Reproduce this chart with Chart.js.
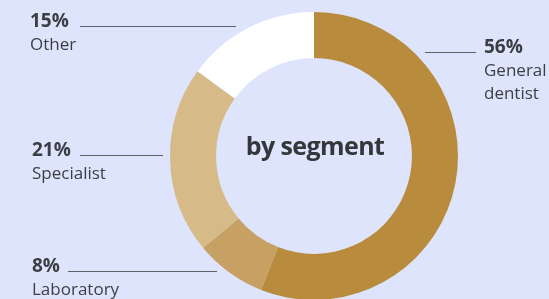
<!DOCTYPE html>
<html>
<head>
<meta charset="utf-8">
<script src="https://cdn.jsdelivr.net/npm/chart.js@4.4.0/dist/chart.umd.min.js"></script>
<style>
html,body{margin:0;padding:0;background:#dde4fc;overflow:hidden;width:549px;height:299px;}
#wrap{position:absolute;left:0;top:0;width:549px;height:300px;}
</style>
</head>
<body>
<div id="wrap"><canvas id="c" width="549" height="300"></canvas></div>
<script>
const categories = ["General dentist", "Laboratory", "Specialist", "Other"];
const shares = [56, 8, 21, 15];
const labelLines = [["General", "dentist"], ["Laboratory"], ["Specialist"], ["Other"]];
const centerTitle = "by segment";
const colors = ["#b98b3c", "#c6a163", "#d6ba88", "#ffffff"];

// annotation layout (positions only)
const annot = [
  {x: 484, y: 53, line: [425, 476, 52.5]},
  {x: 32, y: 272, line: [68, 217, 271.5]},
  {x: 32, y: 156, line: [80, 163, 155.5]},
  {x: 30, y: 27, line: [80, 236, 26.5]}
];

const labelPlugin = {
  id: 'labels',
  afterDraw(chart) {
    const ctx = chart.ctx;
    ctx.save();
    ctx.textBaseline = 'alphabetic';
    ctx.textAlign = 'left';
    shares.forEach((v, i) => {
      const a = annot[i];
      ctx.strokeStyle = '#5c636b';
      ctx.lineWidth = 1.2;
      ctx.beginPath();
      ctx.moveTo(a.line[0], a.line[2]);
      ctx.lineTo(a.line[1], a.line[2]);
      ctx.stroke();
      ctx.fillStyle = '#3b3f44';
      ctx.font = 'bold 19px "Open Sans"';
      ctx.fillText(v + '%', a.x, a.y);
      ctx.font = '17px "Open Sans"';
      labelLines[i].forEach((t, j) => {
        ctx.fillText(t, a.x, a.y + 23 + j * 22.5);
      });
    });
    const meta = chart.getDatasetMeta(0).data[0];
    ctx.font = 'bold 25px "Open Sans"';
    ctx.letterSpacing = '-0.6px';
    ctx.textAlign = 'center';
    ctx.fillStyle = '#33373b';
    ctx.fillText(centerTitle, meta.x + 1, 155);
    ctx.restore();
  }
};

new Chart(document.getElementById('c'), {
  type: 'doughnut',
  data: {
    labels: categories,
    datasets: [{
      data: shares,
      backgroundColor: colors,
      borderWidth: 0,
      hoverOffset: 0
    }]
  },
  options: {
    responsive: false,
    animation: false,
    cutout: '68%',
    layout: {padding: {left: 170, right: 91, top: 12, bottom: 0}},
    plugins: {legend: {display: false}, tooltip: {enabled: false}},
    events: []
  },
  plugins: [labelPlugin]
});
</script>
</body>
</html>
